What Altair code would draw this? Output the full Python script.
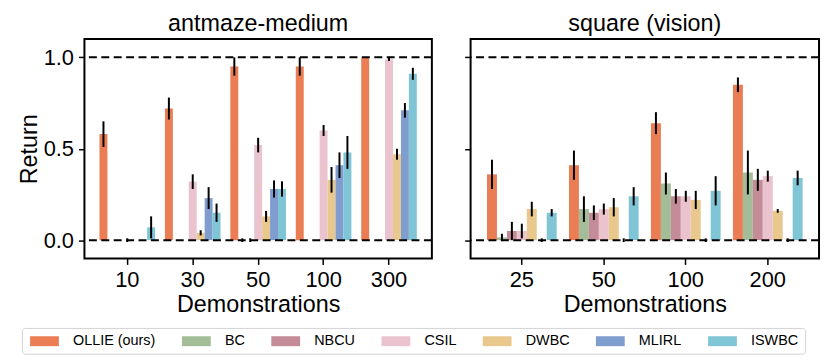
import altair as alt
import pandas as pd

methods = ["OLLIE (ours)", "BC", "NBCU", "CSIL", "DWBC", "MLIRL", "ISWBC"]
colors = ["#EB7D55", "#A3BD99", "#C48B99", "#EAC3CF", "#E9C88E", "#7F9DCE", "#80C5D6"]

# antmaze-medium
ant_demos = ["10", "30", "50", "100", "300"]
ant_ollie = [0.58, 0.72, 0.95, 0.95, 1.00]
ant_bc = [0.0, 0.0, 0.0, 0.0, 0.0]
ant_nbcu = [0.0, 0.0, 0.0, 0.0, 0.0]
ant_csil = [0.0, 0.32, 0.52, 0.60, 0.99]
ant_dwbc = [0.0, 0.04, 0.13, 0.33, 0.47]
ant_mlirl = [0.0, 0.23, 0.28, 0.41, 0.71]
ant_iswbc = [0.07, 0.15, 0.28, 0.48, 0.91]
ant_ollie_err = [0.07, 0.06, 0.05, 0.05, 0.0]
ant_bc_err = [0.0, 0.0, 0.01, 0.0, 0.0]
ant_nbcu_err = [0.0, 0.0, 0.01, 0.0, 0.0]
ant_csil_err = [0.01, 0.04, 0.04, 0.03, 0.01]
ant_dwbc_err = [0.0, 0.014, 0.03, 0.07, 0.03]
ant_mlirl_err = [0.0, 0.06, 0.047, 0.07, 0.04]
ant_iswbc_err = [0.06, 0.05, 0.042, 0.09, 0.033]

# square (vision)
sq_demos = ["25", "50", "100", "200"]
sq_ollie = [0.36, 0.41, 0.64, 0.85]
sq_bc = [0.015, 0.17, 0.31, 0.37]
sq_nbcu = [0.05, 0.15, 0.24, 0.33]
sq_csil = [0.05, 0.17, 0.24, 0.35]
sq_dwbc = [0.17, 0.18, 0.22, 0.16]
sq_mlirl = [0.0, 0.0, 0.0, 0.0]
sq_iswbc = [0.15, 0.24, 0.27, 0.34]
sq_ollie_err = [0.08, 0.08, 0.06, 0.04]
sq_bc_err = [0.02, 0.07, 0.06, 0.12]
sq_nbcu_err = [0.05, 0.04, 0.04, 0.06]
sq_csil_err = [0.04, 0.03, 0.03, 0.03]
sq_dwbc_err = [0.04, 0.05, 0.05, 0.01]
sq_mlirl_err = [0.01, 0.01, 0.01, 0.01]
sq_iswbc_err = [0.02, 0.05, 0.08, 0.04]


def build(demos, vals, errs):
    rows = []
    for m, v, e in zip(methods, vals, errs):
        for d, vi, ei in zip(demos, v, e):
            rows.append({"demo": d, "method": m, "value": vi, "err": ei})
    return pd.DataFrame(rows)


ant_df = build(ant_demos,
               [ant_ollie, ant_bc, ant_nbcu, ant_csil, ant_dwbc, ant_mlirl, ant_iswbc],
               [ant_ollie_err, ant_bc_err, ant_nbcu_err, ant_csil_err, ant_dwbc_err, ant_mlirl_err, ant_iswbc_err])
sq_df = build(sq_demos,
              [sq_ollie, sq_bc, sq_nbcu, sq_csil, sq_dwbc, sq_mlirl, sq_iswbc],
              [sq_ollie_err, sq_bc_err, sq_nbcu_err, sq_csil_err, sq_dwbc_err, sq_mlirl_err, sq_iswbc_err])

FONT = "Liberation Sans"


def panel(df, demos, title, show_labels, pad_outer, width):
    x = alt.X("demo:N", sort=demos,
              scale=alt.Scale(domain=demos, paddingInner=0.15, paddingOuter=pad_outer),
              axis=alt.Axis(title="Demonstrations", labelAngle=0))
    xo = alt.XOffset("method:N", sort=methods,
                     scale=alt.Scale(domain=methods, paddingInner=0, paddingOuter=0))
    yscale = alt.Scale(domain=[-0.1, 1.1], nice=False, zero=False)
    yaxis = alt.Axis(values=[0, 0.5, 1.0], format=".1f", labels=show_labels,
                     title="Return" if show_labels else None)
    base = alt.Chart(df)
    bars = base.mark_bar(opacity=1).encode(
        x=x, xOffset=xo,
        y=alt.Y("value:Q", scale=yscale, axis=yaxis),
        y2=alt.datum(0),
        color=alt.Color("method:N", sort=methods,
                        scale=alt.Scale(domain=methods, range=colors),
                        legend=alt.Legend(title=None, orient="none", legendX=-63, legendY=291,
                                          direction="horizontal", columns=7)),
    )
    errs = base.transform_filter("datum.err > 0").transform_calculate(
        lo="datum.value - datum.err", hi="datum.value + datum.err"
    ).mark_rule(color="black", strokeWidth=2).encode(
        x=x, xOffset=xo,
        y=alt.Y("lo:Q", scale=yscale, axis=yaxis),
        y2="hi:Q",
    )
    lines = alt.Chart(pd.DataFrame({"ref": [0.0, 1.0]})).mark_rule(
        color="black", strokeWidth=2, strokeDash=[8, 4.5]
    ).encode(y=alt.Y("ref:Q", scale=yscale, axis=yaxis))
    return alt.layer(bars, lines, errs).properties(
        width=width, height=221,
        title=alt.TitleParams(title, fontSize=23.5, fontWeight="normal", font=FONT,
                              color="black", offset=3.5),
    )


left = panel(ant_df, ant_demos, "antmaze-medium", True, 0.23, 350)
right = panel(sq_df, sq_demos, "square (vision)", False, 0.2, 351)

chart = alt.hconcat(left, right, spacing=29).resolve_scale(
    x="independent", xOffset="independent"
).properties(
    padding={"left": 8, "top": 2, "right": 1, "bottom": 1}
).configure_view(
    stroke="black", strokeWidth=2
).configure_axis(
    domain=False, grid=False, ticks=True, tickColor="black", tickWidth=1.5, tickSize=6,
    labelFont=FONT, labelFontSize=22, labelColor="black", labelPadding=5,
    titleFont=FONT, titleFontSize=23.5, titleFontWeight="normal", titleColor="black",
    titlePadding=2,
).configure_legend(
    symbolType="M-2.9,-1L2.9,-1L2.9,1L-2.9,1Z", symbolSize=100, symbolOffset=9.5,
    symbolStrokeWidth=0, labelOffset=21.5, columnPadding=24, padding=6,
    strokeColor="#d3d3d3", cornerRadius=3, labelFont=FONT, labelFontSize=14.5,
    labelColor="black", fillColor="white",
)

chart.save("out.html", embed_options={"renderer": "svg", "actions": False})
